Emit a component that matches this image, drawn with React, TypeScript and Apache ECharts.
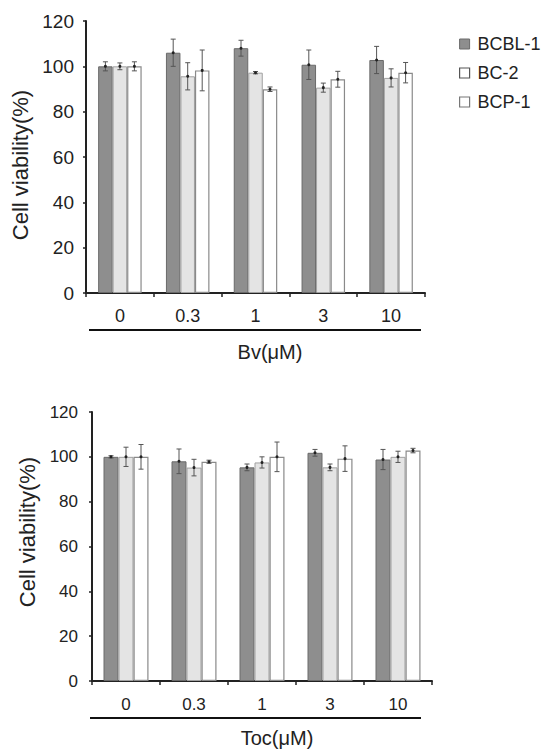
import React, { useEffect, useRef } from "react";
import * as echarts from "echarts";

const categories = ["0", "0.3", "1", "3", "10"];
const seriesNames = ["BCBL-1", "BC-2", "BCP-1"];

// Bv panel
const bvBCBL1 = [100, 106, 108, 100.7, 102.8];
const bvBCBL1Err = [2, 6, 3.5, 6.5, 6];
const bvBC2 = [100, 95.6, 97.2, 90.6, 94.9];
const bvBC2Err = [1.5, 6, 0.5, 2, 4];
const bvBCP1 = [100, 98.2, 89.9, 94.3, 97.2];
const bvBCP1Err = [2, 9, 1, 3.5, 4.5];

// Toc panel
const tocBCBL1 = [100, 98, 95.3, 101.8, 98.8];
const tocBCBL1Err = [0.5, 5.5, 1.5, 1.5, 4.5];
const tocBC2 = [100, 95.2, 97.5, 95.3, 100];
const tocBC2Err = [4.3, 3.7, 2.5, 1.5, 2.5];
const tocBCP1 = [100, 97.8, 100, 99.2, 102.8];
const tocBCP1Err = [5.5, 0.7, 6.6, 5.7, 1];

const FONT = "Liberation Sans";
const barStyles = [
  { color: "#8e8e8e", borderColor: "#6a6a6a", borderWidth: 1 },
  { color: "#e4e4e4", borderColor: "#a0a0a0", borderWidth: 1 },
  { color: "#ffffff", borderColor: "#8a8a8a", borderWidth: 1.2 },
];

function buildPanel(
  idx: number,
  vals: number[][],
  errs: number[][],
  barWidth: number
) {
  const bars = vals.map((v, s) => ({
    name: seriesNames[s],
    type: "bar",
    xAxisIndex: idx,
    yAxisIndex: idx,
    data: v,
    barWidth,
    barGap: "0%",
    itemStyle: barStyles[s],
    emphasis: { disabled: true },
  }));
  const errData: number[][] = [];
  vals.forEach((v, s) => {
    v.forEach((val, c) => {
      errData.push([c, val - errs[s][c], val + errs[s][c], s, val]);
    });
  });
  const err = {
    type: "custom",
    xAxisIndex: idx,
    yAxisIndex: idx,
    data: errData,
    encode: { x: 0, y: [1, 2] },
    z: 10,
    silent: true,
    renderItem: (_params: any, api: any) => {
      const cat = api.value(0);
      const lo = api.coord([cat, api.value(1)]);
      const hi = api.coord([cat, api.value(2)]);
      const mid = api.coord([cat, api.value(4)]);
      const s = api.value(3);
      const x = lo[0] + (s - 1) * barWidth;
      const cap = 2.5;
      const st = { stroke: "#555", lineWidth: 1 };
      return {
        type: "group",
        children: [
          { type: "line", shape: { x1: x, y1: lo[1], x2: x, y2: hi[1] }, style: st },
          { type: "line", shape: { x1: x - cap, y1: lo[1], x2: x + cap, y2: lo[1] }, style: st },
          { type: "line", shape: { x1: x - cap, y1: hi[1], x2: x + cap, y2: hi[1] }, style: st },
          { type: "circle", shape: { cx: x, cy: mid[1], r: 1.5 }, style: { fill: "#222" } },
        ],
      };
    },
  };
  return [...bars, err];
}

export default function App() {
  const ref = useRef<HTMLDivElement>(null);
  useEffect(() => {
    document.body.style.margin = "0";
    const chart = echarts.init(ref.current!, undefined, { renderer: "svg" });
    const axisLine = { lineStyle: { color: "#222", width: 2 } };
    const xAxisBase = (gridIndex: number, fontSize: number, margin: number) => ({
      type: "category",
      gridIndex,
      data: categories,
      axisLine,
      axisTick: { show: true, length: 4, lineStyle: { color: "#222", width: 1.5 } },
      axisLabel: { color: "#222", fontSize, fontFamily: FONT, margin },
      splitLine: { show: false },
    });
    const yAxisBase = (gridIndex: number, fontSize: number, margin: number) => ({
      type: "value",
      gridIndex,
      min: 0,
      max: 120,
      interval: 20,
      axisLine: { show: true, ...axisLine },
      axisTick: { show: true, length: 3, lineStyle: { color: "#222", width: 1.5 } },
      axisLabel: { color: "#222", fontSize, fontFamily: FONT, margin },
      splitLine: { show: false },
    });
    const option: any = {
      animation: false,
      backgroundColor: "#ffffff",
      textStyle: { fontFamily: FONT },
      legend: {
        data: [
          { name: "BCBL-1", itemStyle: { color: "#8e8e8e", borderColor: "#6a6a6a", borderWidth: 1 } },
          { name: "BC-2", itemStyle: { color: "#ffffff", borderColor: "#555", borderWidth: 1.2 } },
          { name: "BCP-1", itemStyle: { color: "#ffffff", borderColor: "#777", borderWidth: 1.2 } },
        ],
        orient: "vertical",
        left: 454,
        top: 30,
        itemWidth: 10,
        itemHeight: 10,
        itemGap: 11,
        icon: "rect",
        selectedMode: false,
        textStyle: { fontSize: 18, color: "#222", fontFamily: FONT, padding: [0, 0, 0, 3] },
      },
      grid: [
        { left: 86, top: 21, width: 339, height: 272 },
        { left: 92, top: 412, width: 340, height: 269 },
      ],
      xAxis: [xAxisBase(0, 18, 14), xAxisBase(1, 17, 15)],
      yAxis: [yAxisBase(0, 19, 12), yAxisBase(1, 17, 14)],
      series: [
        ...buildPanel(0, [bvBCBL1, bvBC2, bvBCP1], [bvBCBL1Err, bvBC2Err, bvBCP1Err], 14.5),
        ...buildPanel(1, [tocBCBL1, tocBC2, tocBCP1], [tocBCBL1Err, tocBC2Err, tocBCP1Err], 15),
      ],
      graphic: [
        { type: "line", shape: { x1: 89, y1: 330, x2: 421, y2: 330 }, style: { stroke: "#111", lineWidth: 2 } },
        { type: "line", shape: { x1: 90, y1: 718, x2: 421, y2: 718 }, style: { stroke: "#111", lineWidth: 2 } },
        {
          type: "text", x: 270, y: 352,
          style: { text: "Bv(μM)", fontSize: 20, fontFamily: FONT, fill: "#222", align: "center", verticalAlign: "middle" },
        },
        {
          type: "text", x: 277, y: 738,
          style: { text: "Toc(μM)", fontSize: 20, fontFamily: FONT, fill: "#222", align: "center", verticalAlign: "middle" },
        },
        {
          type: "text", x: 20, y: 165, rotation: Math.PI / 2,
          style: { text: "Cell viability(%)", fontSize: 22, fontFamily: FONT, fill: "#222", align: "center", verticalAlign: "middle" },
        },
        {
          type: "text", x: 27, y: 532, rotation: Math.PI / 2,
          style: { text: "Cell viability(%)", fontSize: 22, fontFamily: FONT, fill: "#222", align: "center", verticalAlign: "middle" },
        },
      ],
    };
    chart.setOption(option);
    return () => chart.dispose();
  }, []);
  return <div ref={ref} style={{ width: 543, height: 750 }} />;
}
